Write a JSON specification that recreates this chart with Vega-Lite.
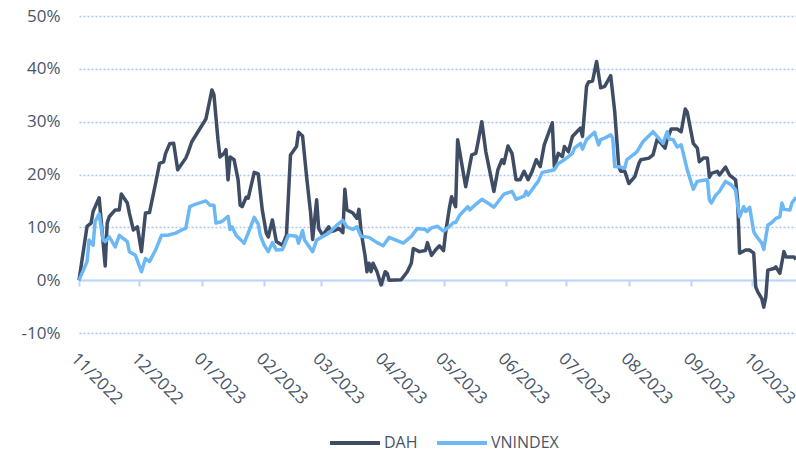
{
"$schema": "https://vega.github.io/schema/vega-lite/v6.json",
"width": 717, "height": 317,
"autosize": "none",
"padding": {"left": 79, "top": 16, "right": 0, "bottom": 120},
"background": "white",
"config": {"font": "Open Sans", "view": {"stroke": null}},
"datasets": {
"dah": [
{"d":"2022-11-01","v":0},{"d":"2022-11-05","v":10.2},{"d":"2022-11-07","v":10.8},{"d":"2022-11-08","v":13.0},{"d":"2022-11-11","v":15.6},{"d":"2022-11-14","v":2.7},{"d":"2022-11-15","v":10.8},{"d":"2022-11-16","v":12.0},{"d":"2022-11-19","v":13.3},{"d":"2022-11-21","v":13.3},{"d":"2022-11-22","v":16.3},{"d":"2022-11-25","v":14.6},{"d":"2022-11-26","v":12.7},{"d":"2022-11-28","v":9.5},{"d":"2022-11-30","v":10.1},
{"d":"2022-12-02","v":5.4},{"d":"2022-12-04","v":12.7},{"d":"2022-12-06","v":12.8},{"d":"2022-12-09","v":18.3},{"d":"2022-12-11","v":22.1},{"d":"2022-12-13","v":22.4},{"d":"2022-12-14","v":24.0},{"d":"2022-12-16","v":25.8},{"d":"2022-12-18","v":25.9},{"d":"2022-12-20","v":20.9},{"d":"2022-12-24","v":23.1},{"d":"2022-12-25","v":24.0},{"d":"2022-12-27","v":26.2},
{"d":"2023-01-03","v":30.5},{"d":"2023-01-06","v":36.0},{"d":"2023-01-07","v":35.1},{"d":"2023-01-09","v":26.6},{"d":"2023-01-10","v":23.3},{"d":"2023-01-12","v":24.0},{"d":"2023-01-13","v":24.7},{"d":"2023-01-14","v":19.0},{"d":"2023-01-15","v":23.3},{"d":"2023-01-17","v":22.8},{"d":"2023-01-19","v":19.0},{"d":"2023-01-20","v":14.2},{"d":"2023-01-21","v":13.9},{"d":"2023-01-23","v":15.7},{"d":"2023-01-24","v":15.5},{"d":"2023-01-27","v":20.4},{"d":"2023-01-29","v":20.1},{"d":"2023-01-31","v":13.3},
{"d":"2023-02-02","v":8.9},{"d":"2023-02-03","v":8.2},{"d":"2023-02-05","v":11.4},{"d":"2023-02-07","v":7.3},{"d":"2023-02-10","v":6.6},{"d":"2023-02-12","v":8.5},{"d":"2023-02-14","v":23.7},{"d":"2023-02-17","v":25.3},{"d":"2023-02-18","v":28.0},{"d":"2023-02-20","v":27.3},{"d":"2023-02-22","v":19.6},{"d":"2023-02-24","v":12.7},{"d":"2023-02-25","v":7.7},{"d":"2023-02-27","v":15.2},{"d":"2023-02-28","v":9.8},
{"d":"2023-03-02","v":8.5},{"d":"2023-03-05","v":10.1},{"d":"2023-03-06","v":9.2},{"d":"2023-03-08","v":9.4},{"d":"2023-03-10","v":9.8},{"d":"2023-03-12","v":9.0},{"d":"2023-03-13","v":17.2},{"d":"2023-03-14","v":13.3},{"d":"2023-03-17","v":12.7},{"d":"2023-03-19","v":11.7},{"d":"2023-03-20","v":13.4},{"d":"2023-03-21","v":9.5},{"d":"2023-03-22","v":7.0},{"d":"2023-03-23","v":4.7},{"d":"2023-03-24","v":1.6},{"d":"2023-03-25","v":3.2},{"d":"2023-03-26","v":1.6},{"d":"2023-03-27","v":3.2},{"d":"2023-03-29","v":1.6},{"d":"2023-03-31","v":-0.9},
{"d":"2023-04-02","v":1.6},{"d":"2023-04-03","v":1.3},{"d":"2023-04-04","v":0.0},{"d":"2023-04-10","v":0.1},{"d":"2023-04-13","v":1.6},{"d":"2023-04-15","v":3.2},{"d":"2023-04-16","v":6.0},{"d":"2023-04-19","v":5.4},{"d":"2023-04-22","v":5.6},{"d":"2023-04-23","v":7.1},{"d":"2023-04-25","v":4.7},{"d":"2023-04-27","v":5.7},{"d":"2023-04-29","v":6.5},
{"d":"2023-05-01","v":5.6},{"d":"2023-05-02","v":8.9},{"d":"2023-05-04","v":13.9},{"d":"2023-05-05","v":15.8},{"d":"2023-05-07","v":13.9},{"d":"2023-05-08","v":26.6},{"d":"2023-05-10","v":22.1},{"d":"2023-05-12","v":17.7},{"d":"2023-05-15","v":23.7},{"d":"2023-05-17","v":24.0},{"d":"2023-05-18","v":25.9},{"d":"2023-05-20","v":30.0},{"d":"2023-05-22","v":24.3},{"d":"2023-05-26","v":16.8},{"d":"2023-05-28","v":20.9},{"d":"2023-05-30","v":22.8},{"d":"2023-05-31","v":22.1},
{"d":"2023-06-02","v":25.4},{"d":"2023-06-04","v":24.0},{"d":"2023-06-06","v":19.0},{"d":"2023-06-08","v":19.0},{"d":"2023-06-10","v":20.6},{"d":"2023-06-12","v":19.0},{"d":"2023-06-14","v":20.6},{"d":"2023-06-16","v":22.8},{"d":"2023-06-18","v":21.5},{"d":"2023-06-20","v":25.6},{"d":"2023-06-24","v":29.8},{"d":"2023-06-25","v":21.5},{"d":"2023-06-27","v":24.0},{"d":"2023-06-29","v":23.4},{"d":"2023-06-30","v":25.3},
{"d":"2023-07-02","v":24.3},{"d":"2023-07-04","v":27.2},{"d":"2023-07-08","v":28.8},{"d":"2023-07-09","v":27.2},{"d":"2023-07-11","v":36.7},{"d":"2023-07-12","v":37.5},{"d":"2023-07-14","v":37.7},{"d":"2023-07-16","v":41.4},{"d":"2023-07-18","v":36.4},{"d":"2023-07-20","v":36.7},{"d":"2023-07-23","v":38.7},{"d":"2023-07-25","v":31.9},{"d":"2023-07-27","v":21.5},{"d":"2023-07-28","v":20.6},{"d":"2023-07-30","v":20.6},
{"d":"2023-08-01","v":18.3},{"d":"2023-08-04","v":19.6},{"d":"2023-08-06","v":22.1},{"d":"2023-08-07","v":22.8},{"d":"2023-08-11","v":23.1},{"d":"2023-08-13","v":23.7},{"d":"2023-08-15","v":26.6},{"d":"2023-08-17","v":25.9},{"d":"2023-08-19","v":25.0},{"d":"2023-08-20","v":26.6},{"d":"2023-08-22","v":28.6},{"d":"2023-08-25","v":28.6},{"d":"2023-08-27","v":28.1},{"d":"2023-08-29","v":32.4},{"d":"2023-08-30","v":31.8},
{"d":"2023-09-02","v":25.9},{"d":"2023-09-04","v":25.0},{"d":"2023-09-05","v":22.4},{"d":"2023-09-07","v":23.1},{"d":"2023-09-09","v":23.1},{"d":"2023-09-10","v":19.5},{"d":"2023-09-11","v":20.2},{"d":"2023-09-14","v":20.6},{"d":"2023-09-15","v":19.9},{"d":"2023-09-18","v":21.4},{"d":"2023-09-20","v":19.9},{"d":"2023-09-23","v":19.0},{"d":"2023-09-24","v":15.2},{"d":"2023-09-25","v":5.1},{"d":"2023-09-28","v":5.7},{"d":"2023-09-30","v":5.7},
{"d":"2023-10-02","v":5.1},{"d":"2023-10-03","v":-1.3},{"d":"2023-10-04","v":-2.2},{"d":"2023-10-06","v":-3.5},{"d":"2023-10-07","v":-5.1},{"d":"2023-10-08","v":-3.2},{"d":"2023-10-09","v":1.9},{"d":"2023-10-12","v":2.2},{"d":"2023-10-13","v":2.5},{"d":"2023-10-15","v":1.3},{"d":"2023-10-17","v":5.4},{"d":"2023-10-18","v":4.4},{"d":"2023-10-20","v":4.4},{"d":"2023-10-22","v":4.4},{"d":"2023-10-23","v":3.9}
],
"vni": [
{"d":"2022-11-01","v":0},{"d":"2022-11-05","v":3.5},{"d":"2022-11-06","v":7.6},{"d":"2022-11-08","v":6.6},{"d":"2022-11-09","v":11.1},{"d":"2022-11-11","v":12.5},{"d":"2022-11-13","v":7.6},{"d":"2022-11-14","v":7.3},{"d":"2022-11-16","v":8.2},{"d":"2022-11-19","v":6.3},{"d":"2022-11-21","v":8.5},{"d":"2022-11-25","v":7.3},{"d":"2022-11-26","v":5.4},{"d":"2022-11-29","v":4.7},
{"d":"2022-12-02","v":1.6},{"d":"2022-12-04","v":4.1},{"d":"2022-12-06","v":3.5},{"d":"2022-12-09","v":5.7},{"d":"2022-12-12","v":8.5},{"d":"2022-12-15","v":8.5},{"d":"2022-12-19","v":8.9},{"d":"2022-12-22","v":9.5},{"d":"2022-12-24","v":9.8},{"d":"2022-12-26","v":13.9},{"d":"2022-12-29","v":14.4},
{"d":"2023-01-03","v":15.0},{"d":"2023-01-05","v":14.2},{"d":"2023-01-07","v":14.2},{"d":"2023-01-08","v":10.8},{"d":"2023-01-11","v":11.1},{"d":"2023-01-14","v":12.1},{"d":"2023-01-15","v":9.6},{"d":"2023-01-16","v":10.1},{"d":"2023-01-18","v":8.5},{"d":"2023-01-22","v":7.0},{"d":"2023-01-24","v":8.9},{"d":"2023-01-27","v":11.9},{"d":"2023-01-29","v":10.6},{"d":"2023-01-30","v":8.5},
{"d":"2023-02-01","v":6.6},{"d":"2023-02-03","v":5.4},{"d":"2023-02-05","v":7.1},{"d":"2023-02-07","v":5.7},{"d":"2023-02-10","v":5.8},{"d":"2023-02-13","v":8.5},{"d":"2023-02-17","v":8.3},{"d":"2023-02-18","v":7.0},{"d":"2023-02-20","v":9.4},{"d":"2023-02-21","v":7.6},{"d":"2023-02-25","v":5.4},{"d":"2023-02-27","v":7.6},
{"d":"2023-03-05","v":8.9},{"d":"2023-03-09","v":10.4},{"d":"2023-03-12","v":11.3},{"d":"2023-03-14","v":10.1},{"d":"2023-03-17","v":9.6},{"d":"2023-03-19","v":10.1},{"d":"2023-03-21","v":8.3},{"d":"2023-03-25","v":8.1},{"d":"2023-03-29","v":7.1},
{"d":"2023-04-01","v":6.5},{"d":"2023-04-04","v":8.1},{"d":"2023-04-11","v":7.0},{"d":"2023-04-15","v":8.3},{"d":"2023-04-18","v":9.8},{"d":"2023-04-22","v":9.6},{"d":"2023-04-23","v":9.2},{"d":"2023-04-25","v":9.9},{"d":"2023-04-28","v":10.2},
{"d":"2023-05-01","v":9.3},{"d":"2023-05-04","v":10.2},{"d":"2023-05-06","v":10.9},{"d":"2023-05-07","v":10.9},{"d":"2023-05-09","v":12.3},{"d":"2023-05-13","v":13.9},{"d":"2023-05-14","v":13.3},{"d":"2023-05-16","v":14.0},{"d":"2023-05-20","v":15.3},{"d":"2023-05-23","v":14.6},{"d":"2023-05-26","v":13.8},{"d":"2023-05-31","v":16.3},
{"d":"2023-06-04","v":16.8},{"d":"2023-06-06","v":15.3},{"d":"2023-06-10","v":15.9},{"d":"2023-06-11","v":16.8},{"d":"2023-06-12","v":16.1},{"d":"2023-06-15","v":17.7},{"d":"2023-06-17","v":18.7},{"d":"2023-06-19","v":20.4},{"d":"2023-06-23","v":20.7},{"d":"2023-06-25","v":20.9},{"d":"2023-06-27","v":22.1},{"d":"2023-06-30","v":22.8},
{"d":"2023-07-02","v":23.4},{"d":"2023-07-04","v":24.0},{"d":"2023-07-05","v":25.0},{"d":"2023-07-08","v":25.9},{"d":"2023-07-09","v":24.8},{"d":"2023-07-11","v":26.6},{"d":"2023-07-15","v":28.0},{"d":"2023-07-17","v":25.6},{"d":"2023-07-18","v":26.6},{"d":"2023-07-20","v":26.9},{"d":"2023-07-23","v":27.5},{"d":"2023-07-24","v":26.9},{"d":"2023-07-25","v":21.5},{"d":"2023-07-28","v":21.4},{"d":"2023-07-30","v":21.2},{"d":"2023-07-31","v":22.8},
{"d":"2023-08-02","v":23.4},{"d":"2023-08-05","v":24.3},{"d":"2023-08-08","v":26.2},{"d":"2023-08-13","v":28.1},{"d":"2023-08-15","v":27.2},{"d":"2023-08-18","v":25.9},{"d":"2023-08-20","v":28.1},{"d":"2023-08-21","v":26.7},{"d":"2023-08-23","v":26.6},{"d":"2023-08-25","v":25.2},{"d":"2023-08-27","v":25.6},{"d":"2023-08-30","v":20.9},
{"d":"2023-09-02","v":17.2},{"d":"2023-09-04","v":18.7},{"d":"2023-09-07","v":18.9},{"d":"2023-09-09","v":19.0},{"d":"2023-09-10","v":15.2},{"d":"2023-09-11","v":14.6},{"d":"2023-09-13","v":16.0},{"d":"2023-09-15","v":16.8},{"d":"2023-09-18","v":18.7},{"d":"2023-09-21","v":18.0},{"d":"2023-09-23","v":17.1},{"d":"2023-09-24","v":14.2},{"d":"2023-09-25","v":12.0},{"d":"2023-09-27","v":13.9},{"d":"2023-09-28","v":13.0},{"d":"2023-09-30","v":13.8},
{"d":"2023-10-02","v":9.2},{"d":"2023-10-03","v":8.5},{"d":"2023-10-06","v":7.0},{"d":"2023-10-07","v":5.8},{"d":"2023-10-09","v":10.4},{"d":"2023-10-11","v":10.9},{"d":"2023-10-13","v":11.7},{"d":"2023-10-15","v":12.0},{"d":"2023-10-16","v":14.6},{"d":"2023-10-17","v":13.4},{"d":"2023-10-20","v":13.3},{"d":"2023-10-21","v":14.6},{"d":"2023-10-23","v":15.7}
]
},
"layer": [
{"data": {"name": "dah"}, "transform": [{"calculate": "'DAH'", "as": "s"}],
 "mark": {"type": "line", "strokeWidth": 3.5, "strokeJoin": "round"}},
{"data": {"name": "vni"}, "transform": [{"calculate": "'VNINDEX'", "as": "s"}],
 "mark": {"type": "line", "strokeWidth": 3.5, "strokeJoin": "round"}}
],
"encoding": {
  "x": {"field": "d", "type": "temporal",
   "scale": {"type": "utc", "domain": [{"year": 2022, "month": 11, "date": 1, "utc": true}, {"year": 2023, "month": 10, "date": 23, "utc": true}]},
   "axis": {"title": null, "labelExpr": "utcFormat(datum.value, '%m/%Y')", "tickCount": {"interval": "month", "step": 1},
    "labelAngle": 45, "labelAlign": "left", "labelBaseline": "top", "labelPadding": 64, "offset": -53,
    "domainColor": "#bcd5fa", "domainWidth": 2, "tickColor": "#bcd5fa", "tickWidth": 2, "tickSize": 6,
    "grid": false, "labelFontSize": 17, "labelColor": "#4a5568", "labelOverlap": false, "labelFlush": false}},
  "y": {"field": "v", "type": "quantitative",
   "scale": {"domain": [-10, 50], "nice": false, "zero": false},
   "axis": {"title": null, "values": [-10, 0, 10, 20, 30, 40, 50], "labelExpr": "datum.value + '%'",
    "ticks": false, "domain": false, "gridColor": "#a9c7f7", "gridDash": [2, 2], "gridWidth": 1.5,
    "labelPadding": 19, "labelFontSize": 17, "labelColor": "#4a5568"}},
  "color": {"field": "s", "type": "nominal",
   "scale": {"domain": ["DAH", "VNINDEX"], "range": ["#3f4d64", "#6cb8f5"]},
   "legend": {"orient": "none", "legendX": 249, "legendY": 400, "direction": "horizontal", "title": null,
    "symbolType": "stroke", "symbolSize": 2500, "symbolStrokeWidth": 4, "labelFontSize": 16, "labelColor": "#4a5568",
    "columnPadding": 11, "labelOffset": 2, "padding": 0}}
}
}
